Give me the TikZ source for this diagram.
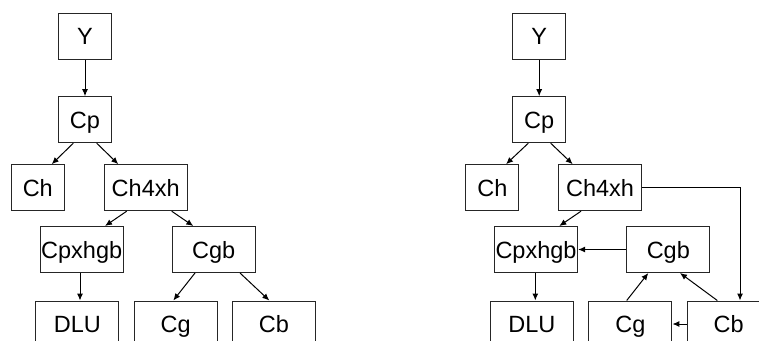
\documentclass[tikz,border=0pt]{standalone}
\usepackage{fontspec}
\setmainfont{Liberation Sans}
\usetikzlibrary{arrows.meta,calc}
\tikzset{
  box/.style={draw=black!85, line width=1pt, inner sep=0pt, minimum height=46pt, text height=17pt, text depth=0pt, font=\fontsize{23.5}{27}\selectfont},
  sbox/.style={box, minimum width=53pt},
  wbox/.style={box, minimum width=83.3pt},
  arr/.style={line width=1pt, -{Latex[length=7pt,width=6pt]}}
}
\begin{document}
\begin{tikzpicture}[x=1pt,y=-1pt]
\useasboundingbox (0,0) rectangle (759,340);
\clip (0,0) rectangle (759,340);
% left panel
\node[sbox] (Y1) at (85,36.3) {Y};
\node[sbox] (Cp1) at (85,119.7) {Cp};
\node[sbox] (Ch1) at (37.8,187.7) {Ch};
\node[wbox] (Ch4xh1) at (145.7,187.7) {Ch4xh};
\node[wbox] (Cpxhgb1) at (81.7,249.5) {Cpxhgb};
\node[wbox] (Cgb1) at (213.7,249.5) {Cgb};
\node[wbox] (DLU1) at (77.3,324) {DLU};
\node[wbox] (Cg1) at (175.7,324) {Cg};
\node[wbox] (Cb1) at (274,324) {Cb};
\draw[arr] (Y1.south) -- (Cp1.north);
\draw[arr] ($(Cp1.south)+(-11.7,0)$) -- ($(Ch1.north)+(13.9,0)$);
\draw[arr] ($(Cp1.south)+(11.7,0)$) -- ($(Ch4xh1.north)+(-27.4,0)$);
\draw[arr] ($(Ch4xh1.south)+(-19,0)$) -- ($(Cpxhgb1.north)+(23.3,0)$);
\draw[arr] ($(Ch4xh1.south)+(26,0)$) -- ($(Cgb1.north)+(-20.4,0)$);
\draw[arr] ($(Cpxhgb1.south)+(-1.7,0)$) -- ($(DLU1.north)+(2.7,0)$);
\draw[arr] ($(Cgb1.south)+(-18.7,0)$) -- ($(Cg1.north)+(-2.4,0)$);
\draw[arr] ($(Cgb1.south)+(26.3,0)$) -- ($(Cb1.north)+(-4.7,0)$);
% right panel
\node[sbox] (Y2) at (539.2,36.3) {Y};
\node[sbox] (Cp2) at (539.2,119.7) {Cp};
\node[sbox] (Ch2) at (492.3,187.7) {Ch};
\node[wbox] (Ch4xh2) at (600,187.7) {Ch4xh};
\node[wbox] (Cpxhgb2) at (536,249.5) {Cpxhgb};
\node[wbox] (Cgb2) at (668.3,249.5) {Cgb};
\node[wbox] (DLU2) at (531.8,324) {DLU};
\node[wbox] (Cg2) at (630.3,324) {Cg};
\node[wbox] (Cb2) at (728.7,324) {Cb};
\draw[arr] (Y2.south) -- (Cp2.north);
\draw[arr] ($(Cp2.south)+(-10.9,0)$) -- ($(Ch2.north)+(13.7,0)$);
\draw[arr] ($(Cp2.south)+(11.5,0)$) -- ($(Ch4xh2.north)+(-27.3,0)$);
\draw[arr] ($(Ch4xh2.south)+(-19,0)$) -- ($(Cpxhgb2.north)+(23.3,0)$);
\draw[arr] (Ch4xh2.east) -| ($(Cb2.north)+(11.3,0)$);
\draw[arr] (Cgb2.west) -- (Cpxhgb2.east);
\draw[arr] ($(Cpxhgb2.south)+(-0.7,0)$) -- ($(DLU2.north)+(3.5,0)$);
\draw[arr] ($(Cg2.north)+(-3.6,0)$) -- ($(Cgb2.south)+(-20,0)$);
\draw[arr] ($(Cb2.north)+(-11.4,0)$) -- ($(Cgb2.south)+(11.7,0)$);
\draw[arr] (Cb2.west) -- (Cg2.east);
\end{tikzpicture}
\end{document}
